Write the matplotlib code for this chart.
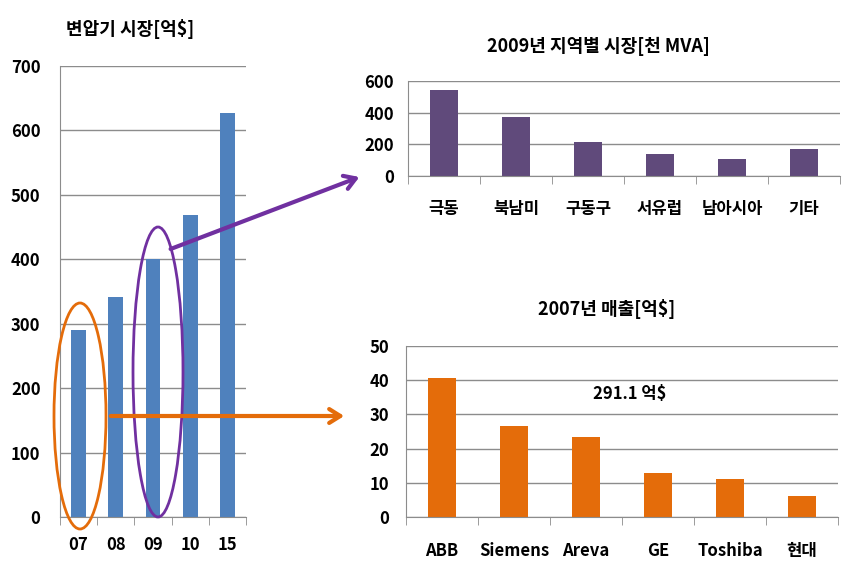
import numpy as np
import matplotlib.pyplot as plt
from matplotlib.patches import Ellipse, FancyArrowPatch

plt.rcParams['font.family'] = ['Noto Sans CJK KR', 'DejaVu Sans']
plt.rcParams['font.weight'] = 'bold'

years = ['07', '08', '09', '10', '15']
market = [290, 342, 400, 468, 627]

regions = ['극동', '북남미', '구동구', '서유럽', '남아시아', '기타']
region_mva = [540, 370, 215, 140, 108, 172]

makers = ['ABB', 'Siemens', 'Areva', 'GE', 'Toshiba', '현대']
sales = [40.7, 26.5, 23.3, 13.0, 11.0, 6.0]

W, H = 859, 576
fig = plt.figure(figsize=(W / 100, H / 100), dpi=100)

def box(x0, y0, x1, y1):
    # pixel box (top-left origin) -> figure fraction rect
    return [x0 / W, 1 - y1 / H, (x1 - x0) / W, (y1 - y0) / H]

def pt(x, y):
    return (x / W, 1 - y / H)

def style(ax, ymax, step):
    ax.set_ylim(0, ymax)
    ax.set_yticks(np.arange(0, ymax + 1, step))
    ax.grid(axis='y', color='#8c8c8c', lw=1)
    ax.set_axisbelow(True)
    for s in ['top', 'right']:
        ax.spines[s].set_visible(False)
    ax.spines['left'].set_color('#8c8c8c')
    ax.spines['bottom'].set_color('#8c8c8c')
    ax.tick_params(axis='y', length=0, labelsize=12, pad=14)
    ax.tick_params(axis='x', length=0, labelsize=12, pad=14)

def bars(ax, labels, vals, color, width=0.4):
    n = len(labels)
    x = np.arange(n)
    ax.bar(x, vals, width=width, color=color)
    ax.set_xlim(-0.5, n - 0.5)
    ax.set_xticks(x)
    ax.set_xticklabels(labels)
    ax.set_xticks(np.arange(-0.5, n, 1), minor=True)
    ax.tick_params(axis='x', which='minor', length=6, color='#8c8c8c', direction='out')

# left chart
ax1 = fig.add_axes(box(60, 66, 246, 517))
style(ax1, 700, 100)
bars(ax1, years, market, '#4F81BD')
ax1.tick_params(axis='y', pad=14)
fig.text(130 / W, 1 - 29 / H, '변압기 시장[억$]', ha='center', va='center', fontsize=13, weight='bold')

# top right chart
ax2 = fig.add_axes(box(408, 81, 840, 176))
style(ax2, 600, 200)
bars(ax2, regions, region_mva, '#604A7B')
ax2.tick_params(axis='x', pad=17)
ax2.tick_params(axis='y', pad=10)
fig.text(598 / W, 1 - 46 / H, '2009년 지역별 시장[천 MVA]', ha='center', va='center', fontsize=13, weight='bold')

# bottom right chart
ax3 = fig.add_axes(box(406, 346, 838, 517))
style(ax3, 50, 10)
bars(ax3, makers, sales, '#E46C0A')
ax3.tick_params(axis='y', pad=12)
ax3.tick_params(axis='x', pad=18)
fig.text(607 / W, 1 - 309 / H, '2007년 매출[억$]', ha='center', va='center', fontsize=13, weight='bold')
fig.text(630 / W, 1 - 394 / H, '291.1 억$', ha='center', va='center', fontsize=12, weight='bold')

# ellipses and arrows
orange = '#E46C0A'
purple = '#7030A0'
fig.add_artist(Ellipse(pt(80, 416), 52 / W, 226 / H, transform=fig.transFigure,
                       fill=False, ec=orange, lw=2))
fig.add_artist(Ellipse(pt(158, 372), 50 / W, 290 / H, transform=fig.transFigure,
                       fill=False, ec=purple, lw=2))
fig.add_artist(FancyArrowPatch(pt(108, 416), pt(347, 416), transform=fig.transFigure,
                               arrowstyle='->,head_length=8,head_width=5', color=orange, lw=3))
fig.add_artist(FancyArrowPatch(pt(168, 250), pt(362, 176), transform=fig.transFigure,
                               arrowstyle='->,head_length=8,head_width=5', color=purple, lw=3))

fig.savefig('out.png', dpi=100)
